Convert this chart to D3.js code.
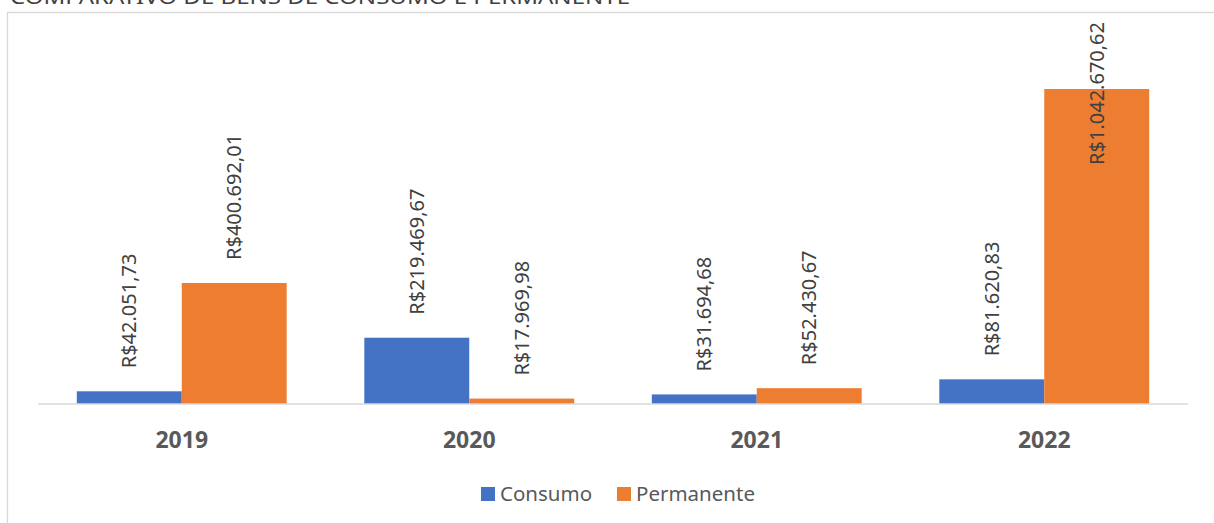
<!DOCTYPE html>
<html lang="pt">
<head>
  <meta charset="UTF-8">
  <title>Comparativo de bens de consumo e permanente</title>
  <script src="https://d3js.org/d3.v7.min.js"></script>
  <style>
    html, body {
      margin: 0;
      padding: 0;
      background: #fff;
      overflow: hidden;
    }
    svg {
      display: block;
      font-family: "Noto Sans", "Open Sans", sans-serif;
    }
  </style>
</head>
<body>
  <svg width="1214" height="523"></svg>

  <script>
    // valores
    const anos = ["2019", "2020", "2021", "2022"];
    const series = ["Consumo", "Permanente"];
    const consumo = [42051.73, 219469.67, 31694.68, 81620.83];
    const permanente = [400692.01, 17969.98, 52430.67, 1042670.62];
    const titulo = "COMPARATIVO DE BENS DE CONSUMO E PERMANENTE";

    const width = 1214, height = 523;
    const svg = d3.select("svg");

    const color = d3.scaleOrdinal().domain(series).range(["#4472C4", "#ED7D31"]);

    const br = d3.formatLocale({decimal: ",", thousands: ".", grouping: [3], currency: ["R$", ""]});
    const fmt = br.format("$,.2f");

    const plotTop = 22, baseY = 404;

    const x0 = d3.scaleBand().domain(anos).range([38, 1188]).padding(0);
    const bw = x0.bandwidth();
    const x1 = d3.scaleBand().domain(series).range([bw * 0.135, bw * 0.865]).padding(0);
    const y = d3.scaleLinear().domain([0, 1200000]).range([baseY, 41.5]);

    const rows = anos.map((a, i) => ({ano: a, Consumo: consumo[i], Permanente: permanente[i]}));

    // título (cortado no topo, como na imagem)
    svg.append("text")
      .attr("x", 10)
      .attr("y", 4)
      .attr("textLength", 620)
      .attr("lengthAdjust", "spacingAndGlyphs")
      .attr("font-size", 20)
      .attr("fill", "#404040")
      .text(titulo);

    // moldura do gráfico
    svg.append("path")
      .attr("d", `M7.5,${height + 5}V12.5H${width + 5}`)
      .attr("fill", "none")
      .attr("stroke", "#d9d9d9")
      .attr("stroke-width", 1.3);

    const groups = svg.append("g").selectAll("g")
      .data(rows)
      .join("g")
      .attr("transform", d => `translate(${x0(d.ano)},0)`);

    groups.selectAll("rect")
      .data(d => series.map(k => ({key: k, value: d[k]})))
      .join("rect")
      .attr("x", d => x1(d.key))
      .attr("width", x1.bandwidth())
      .attr("y", d => y(d.value))
      .attr("height", d => baseY - y(d.value))
      .attr("fill", d => color(d.key));

    // linha do eixo
    svg.append("line")
      .attr("x1", 38).attr("x2", 1188)
      .attr("y1", baseY).attr("y2", baseY)
      .attr("stroke", "#d9d9d9")
      .attr("stroke-width", 1.5);

    // rótulos de dados (verticais)
    groups.selectAll("text.val")
      .data(d => series.map(k => ({key: k, value: d[k]})))
      .join("text")
      .attr("class", "val")
      .attr("font-size", 20)
      .attr("fill", "#404040")
      .attr("text-anchor", "start")
      .attr("dy", "0.36em")
      .text(d => fmt(d.value))
      .each(function(d) {
        const len = this.getComputedTextLength();
        let ty = y(d.value) - 23;
        if (ty - len < plotTop) ty = plotTop + len;
        const cx = x1(d.key) + x1.bandwidth() / 2;
        d3.select(this).attr("transform", `translate(${cx},${ty}) rotate(-90)`);
      });

    // rótulos do eixo x
    svg.append("g").selectAll("text")
      .data(anos)
      .join("text")
      .attr("x", d => x0(d) + bw / 2)
      .attr("y", 448)
      .attr("text-anchor", "middle")
      .attr("font-size", 23)
      .attr("font-weight", "bold")
      .attr("fill", "#595959")
      .text(d => d);

    // legenda
    const legend = svg.append("g");
    const legendX = [481, 617];
    series.forEach((s, i) => {
      legend.append("rect")
        .attr("x", legendX[i]).attr("y", 487)
        .attr("width", 14).attr("height", 14)
        .attr("fill", color(s));
      legend.append("text")
        .attr("x", legendX[i] + 19)
        .attr("y", 501)
        .attr("font-size", 20.5)
        .attr("fill", "#595959")
        .text(s);
    });
  </script>
</body>
</html>
